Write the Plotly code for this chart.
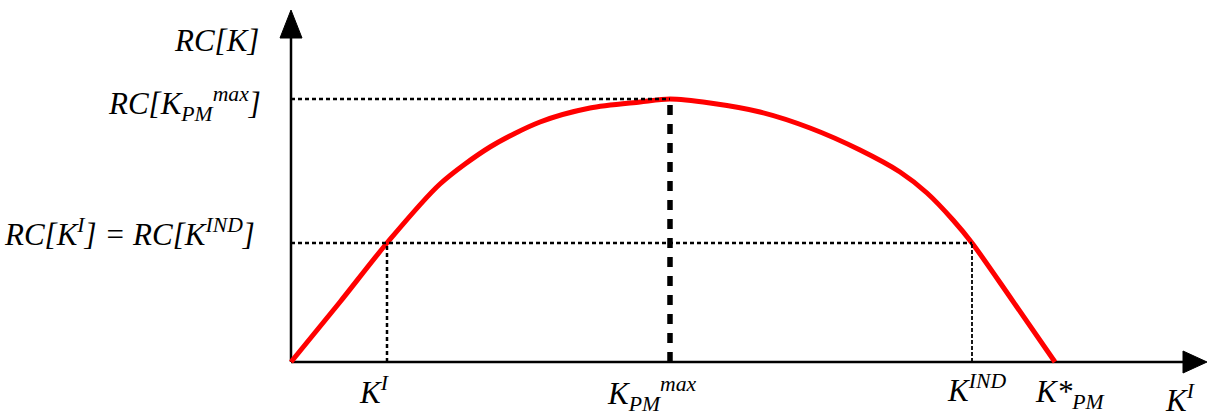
import plotly.graph_objects as go

# Capital stock K (horizontal) and revenue RC[K] (vertical), in chart units
k_values = [0, 49, 96, 149, 199, 249, 299, 349, 379, 419, 469, 519, 569, 609, 636, 662, 681, 719, 764]
rc_values = [0, 60, 119, 178, 215, 240, 254, 260, 263, 259, 250, 234, 212, 190, 169, 142, 119, 65, 0]

# Key points on the curve
k_i = 96          # K^I
k_pm_max = 379    # K_PM^max
k_ind = 681       # K^IND
k_star = 764      # K*_PM
rc_max = 263      # RC[K_PM^max]
rc_eq = 119       # RC[K^I] = RC[K^IND]

x_axis_end = 916
y_axis_end = 352

FONT = "Liberation Serif"
BLACK = "#000000"

fig = go.Figure()

fig.add_trace(go.Scatter(
    x=k_values, y=rc_values, mode="lines",
    line=dict(color="#ff0000", width=5, shape="spline", smoothing=0.8),
    hoverinfo="skip", showlegend=False,
))

shapes = []
# axes
shapes.append(dict(type="line", x0=0, y0=0, x1=0, y1=y_axis_end - 26,
                   line=dict(color=BLACK, width=2.5), layer="below"))
shapes.append(dict(type="line", x0=0, y0=0, x1=x_axis_end - 20, y1=0,
                   line=dict(color=BLACK, width=2.5), layer="below"))
# arrow heads
shapes.append(dict(type="path",
                   path=f"M -11,{y_axis_end - 28} L 11,{y_axis_end - 28} L 0,{y_axis_end} Z",
                   fillcolor=BLACK, line=dict(color=BLACK, width=1)))
shapes.append(dict(type="path",
                   path=f"M {x_axis_end - 24},11 L {x_axis_end - 24},-11 L {x_axis_end},0 Z",
                   fillcolor=BLACK, line=dict(color=BLACK, width=1)))

dotted = dict(color=BLACK, width=2.5, dash="4px,3px")
# guide lines
shapes.append(dict(type="line", x0=0, y0=rc_max, x1=k_pm_max, y1=rc_max, line=dotted))
shapes.append(dict(type="line", x0=0, y0=rc_eq, x1=k_ind, y1=rc_eq, line=dotted))
shapes.append(dict(type="line", x0=k_i, y0=0, x1=k_i, y1=rc_eq, line=dotted))
shapes.append(dict(type="line", x0=k_ind, y0=0, x1=k_ind, y1=rc_eq,
                   line=dict(color=BLACK, width=1.8, dash="4px,2px")))
shapes.append(dict(type="line", x0=k_pm_max, y0=0, x1=k_pm_max, y1=rc_max,
                   line=dict(color=BLACK, width=5.5, dash="10px,9px")))


def label(text, x, y, xanchor="center", yanchor="middle"):
    return dict(text=f"<i>{text}</i>", x=x, y=y, xref="x", yref="y",
                showarrow=False, xanchor=xanchor, yanchor=yanchor,
                font=dict(family=FONT, size=31, color=BLACK))


annotations = [
    label("RC[K]", -30, 322, xanchor="right"),
    label("RC[K<sub>PM</sub><sup>max</sup>]", -28, 258, xanchor="right"),
    label("RC[K<sup>I</sup>] = RC[K<sup>IND</sup>]", -34, 130, xanchor="right"),
    label("K<sup>I</sup>", k_i - 13, -28),
    label("K<sub>PM</sub><sup>max</sup>", k_pm_max - 18, -32),
    label("K<sup>IND</sup>", k_ind + 4, -26),
    label("K*<sub>PM</sub>", k_star + 15, -32),
    label("K<sup>I</sup>", x_axis_end - 27, -36),
]

fig.update_layout(
    width=1207, height=419,
    margin=dict(l=0, r=0, t=0, b=0),
    paper_bgcolor="white", plot_bgcolor="white",
    xaxis=dict(range=[-291, 916], visible=False, fixedrange=True),
    yaxis=dict(range=[-57, 362], visible=False, fixedrange=True),
    shapes=shapes, annotations=annotations,
    showlegend=False,
)

fig.write_html("out.html")
